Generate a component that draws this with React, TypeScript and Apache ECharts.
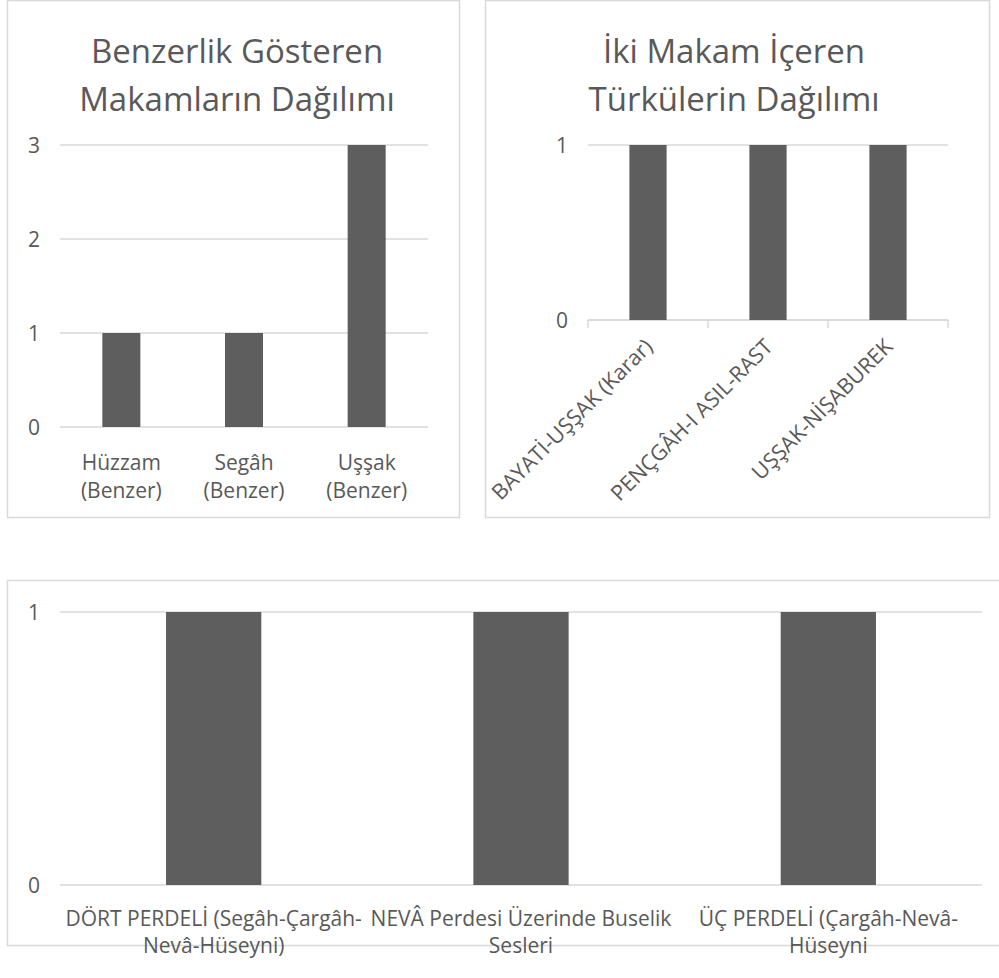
import React, { useEffect, useRef } from "react";
import * as echarts from "echarts";

// ---- Data ----
const chart1Title = "Benzerlik Gösteren\nMakamların Dağılımı";
const chart1Categories = ["Hüzzam (Benzer)", "Segâh (Benzer)", "Uşşak (Benzer)"];
const chart1Labels = ["Hüzzam\n(Benzer)", "Segâh\n(Benzer)", "Uşşak\n(Benzer)"];
const chart1Values = [1, 1, 3];

const chart2Title = "İki Makam İçeren\nTürkülerin Dağılımı";
const chart2Categories = ["BAYATİ-UŞŞAK (Karar)", "PENÇGÂH-I ASIL-RAST", "UŞŞAK-NİŞABUREK"];
const chart2Values = [1, 1, 1];

const chart3Categories = [
  "DÖRT PERDELİ (Segâh-Çargâh-Nevâ-Hüseyni)",
  "NEVÂ Perdesi Üzerinde Buselik Sesleri",
  "ÜÇ PERDELİ (Çargâh-Nevâ-Hüseyni",
];
const chart3Labels = [
  "DÖRT PERDELİ (Segâh-Çargâh-\nNevâ-Hüseyni)",
  "NEVÂ Perdesi Üzerinde Buselik\nSesleri",
  "ÜÇ PERDELİ (Çargâh-Nevâ-\nHüseyni",
];
const chart3Values = [1, 1, 1];

const FONT = "'Open Sans', 'Noto Sans', sans-serif";
const TEXT = "#595959";
const GRID = "#d9d9d9";
const BAR = "#5e5e5e";

export default function App() {
  const ref = useRef<HTMLDivElement>(null);

  useEffect(() => {
    if (!ref.current) return;
    const chart = echarts.init(ref.current, null, { renderer: "svg" });

    const labelFor = (cats: string[], labels: string[]) => (v: string) => {
      const i = cats.indexOf(v);
      return i >= 0 ? labels[i] : v;
    };

    const yAxisBase = (max: number) => ({
      type: "value" as const,
      min: 0,
      max,
      interval: 1,
      axisLine: { show: false },
      axisTick: { show: false },
      axisLabel: { color: TEXT, fontSize: 21, fontFamily: FONT, margin: 20 },
      splitLine: { lineStyle: { color: GRID, width: 1.5 } },
    });

    const titleStyle = { color: TEXT, fontSize: 33, fontWeight: "normal", fontFamily: FONT, lineHeight: 48 };

    const option: any = {
      animation: false,
      backgroundColor: "#ffffff",
      title: [
        { text: chart1Title, left: 232, top: 21, textAlign: "center", textStyle: titleStyle },
        { text: chart2Title, left: 729, top: 21, textAlign: "center", textStyle: titleStyle },
      ],
      graphic: [
        { type: "rect", shape: { x: 7.5, y: 0.5, width: 452, height: 517 }, style: { fill: "none", stroke: GRID, lineWidth: 1.5 } },
        { type: "rect", shape: { x: 485.5, y: 0.5, width: 504, height: 517 }, style: { fill: "none", stroke: GRID, lineWidth: 1.5 } },
        { type: "rect", shape: { x: 7.5, y: 580.5, width: 995, height: 365 }, style: { fill: "none", stroke: GRID, lineWidth: 1.5 } },
      ],
      grid: [
        { left: 60, top: 145, width: 368, height: 282 },
        { left: 588, top: 145, width: 360, height: 175 },
        { left: 60, top: 612, width: 922, height: 273 },
      ],
      xAxis: [
        {
          gridIndex: 0,
          type: "category",
          data: chart1Categories,
          axisLine: { show: false },
          axisTick: { show: false },
          axisLabel: {
            color: TEXT,
            fontSize: 21,
            fontFamily: FONT,
            lineHeight: 28,
            margin: 21,
            interval: 0,
            formatter: labelFor(chart1Categories, chart1Labels),
          },
        },
        {
          gridIndex: 1,
          type: "category",
          data: chart2Categories,
          axisLine: { show: true, lineStyle: { color: GRID, width: 1.5 } },
          axisTick: { show: true, length: 8, lineStyle: { color: GRID, width: 1.5 } },
          axisLabel: { color: TEXT, fontSize: 21.5, fontFamily: FONT, rotate: 45, margin: 22, interval: 0 },
        },
        {
          gridIndex: 2,
          type: "category",
          data: chart3Categories,
          axisLine: { show: false },
          axisTick: { show: false },
          axisLabel: {
            color: TEXT,
            fontSize: 21,
            fontFamily: FONT,
            lineHeight: 27,
            margin: 19,
            interval: 0,
            formatter: labelFor(chart3Categories, chart3Labels),
          },
        },
      ],
      yAxis: [
        { gridIndex: 0, ...yAxisBase(3) },
        { gridIndex: 1, ...yAxisBase(1) },
        { gridIndex: 2, ...yAxisBase(1) },
      ],
      series: [
        { type: "bar", xAxisIndex: 0, yAxisIndex: 0, data: chart1Values, barWidth: "31%", itemStyle: { color: BAR } },
        { type: "bar", xAxisIndex: 1, yAxisIndex: 1, data: chart2Values, barWidth: "31%", itemStyle: { color: BAR } },
        { type: "bar", xAxisIndex: 2, yAxisIndex: 2, data: chart3Values, barWidth: "31%", itemStyle: { color: BAR } },
      ],
    };

    chart.setOption(option);
    return () => chart.dispose();
  }, []);

  return (
    <div
      ref={ref}
      style={{ position: "absolute", left: 0, top: 0, width: 999, height: 978 }}
    />
  );
}
